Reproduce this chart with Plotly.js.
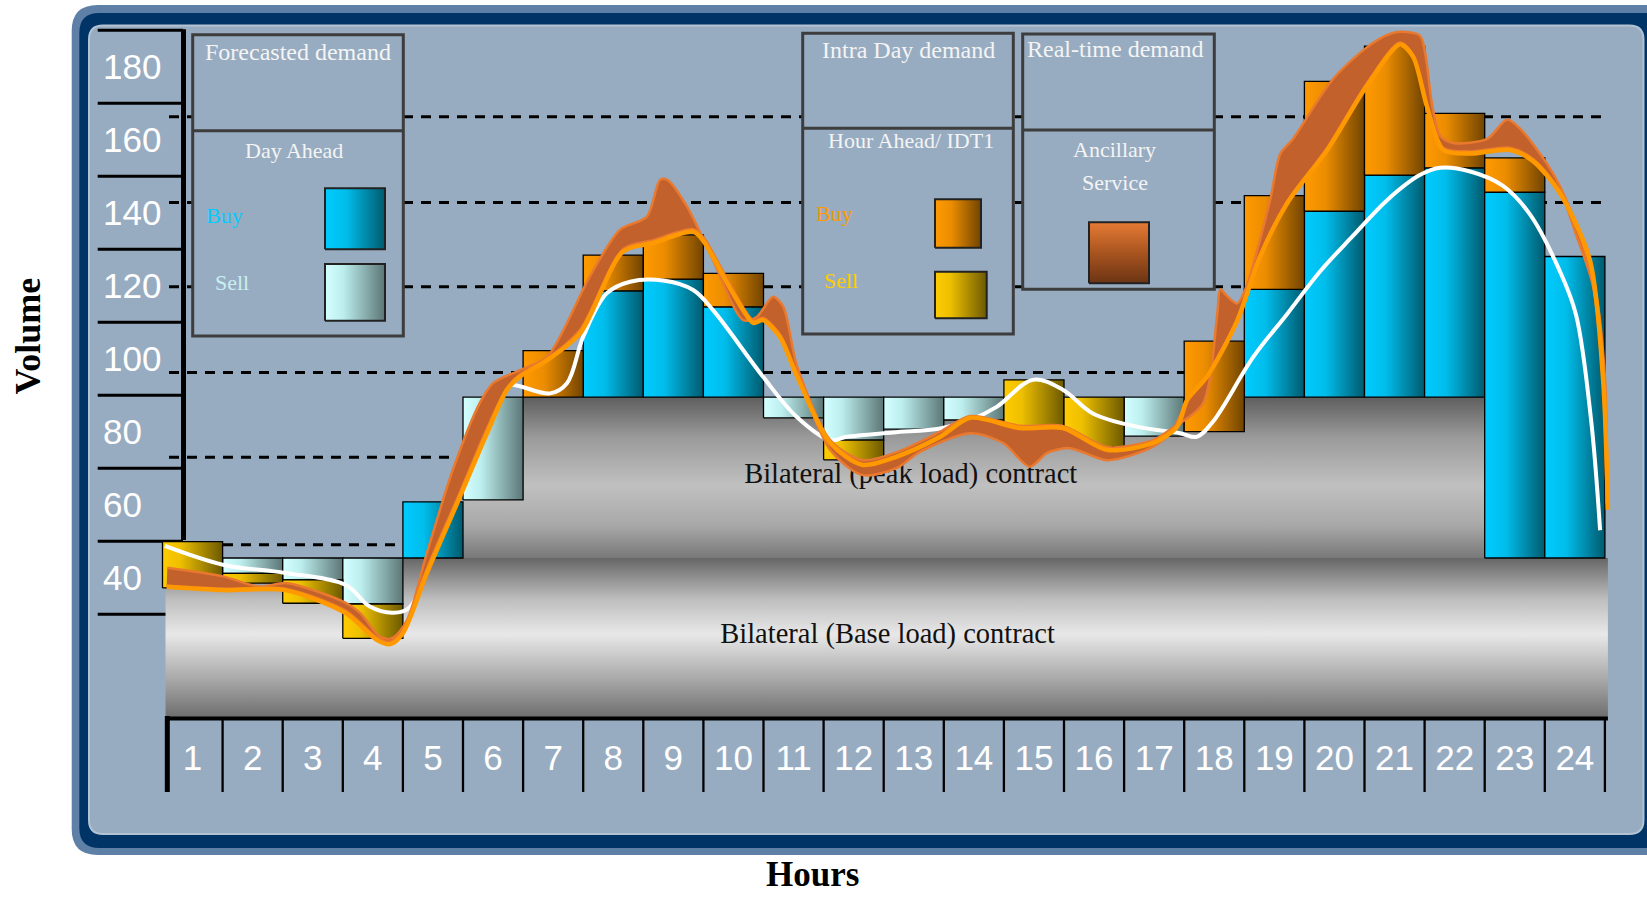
<!DOCTYPE html>
<html><head><meta charset="utf-8">
<script src="https://cdn.plot.ly/plotly-3.0.1.min.js"></script>
<style>html,body{margin:0;padding:0;background:#fff}#chart{width:1647px;height:898px}</style>
</head><body><div id="chart"></div>
<script>
// ================= DATA =================
const hours = [1,2,3,4,5,6,7,8,9,10,11,12,13,14,15,16,17,18,19,20,21,22,23,24];
const hourLabels = hours.map(String);
const yTickValues = [40,60,80,100,120,140,160,180];
const gridLevels = [49.0, 73.0, 96.2, 119.7, 142.8, 166.3];
const sideTickLevels = [190,170,150,130,110,90,70,50,30];

// Bilateral contracts
const baseLoadTop = 45.4;
const baseLoadBottom = 1.8;
const peakLoadTop = [null,null,null,null,null,61.3,89.5,89.5,89.5,89.5,89.5,89.5,89.5,89.5,89.5,89.5,89.5,89.5,89.5,89.5,89.5,89.5,null,null];

const n = null;
// Day Ahead buy / sell segments (low, high)
const daBuyLow   = [n,n,n,n,45.4,n,n,89.5,89.5,89.5,n,n,n,n,n,n,n,n,89.5,89.5,89.5,89.5,45.4,45.4];
const daBuyHigh  = [n,n,n,n,60.8,n,n,118.6,121.8,114.2,n,n,n,n,n,n,n,n,119.0,140.4,150.3,152.3,145.6,128.0];
const daSellLow  = [n,41.2,39.4,32.8,n,61.3,n,n,n,n,83.8,77.7,80.7,83.2,n,n,78.8,n,n,n,n,n,n,n];
const daSellHigh = [n,45.4,45.4,45.4,n,89.5,n,n,n,n,89.5,89.5,89.5,89.5,n,n,89.5,n,n,n,n,n,n,n];
// Hour Ahead / IDT1 buy / sell segments
const idBuyLow   = [n,n,n,n,n,n,89.5,118.6,121.8,114.2,n,n,n,n,n,n,n,80.0,119.0,140.4,150.3,152.3,145.6,n];
const idBuyHigh  = [n,n,n,n,n,n,102.2,128.4,133.9,123.4,n,n,n,n,n,n,n,104.8,144.7,176.0,185.6,167.2,155.0,n];
const idSellLow  = [37.2,38.5,33.0,23.4,n,n,n,n,n,n,n,72.3,n,n,80.3,75.9,n,n,n,n,n,n,n,n];
const idSellHigh = [49.9,41.2,39.4,32.8,n,n,n,n,n,n,n,77.7,n,n,94.2,89.5,n,n,n,n,n,n,n,n];

// Forecast (white) curve
const whiteH = [0.54,1.52,2.54,3.55,3.95,4.34,4.62,5.12,5.62,6.11,6.33,6.95,7.23,7.50,7.89,8.28,8.83,9.33,9.66,10.49,11.05,11.61,11.88,12.66,13.44,13.94,14.38,14.98,15.48,15.98,16.71,17.43,17.71,17.98,18.65,19.21,19.76,20.31,20.88,21.42,21.76,22.26,22.80,23.25,23.75,24.02,24.27,24.42];
const whiteV = [48.7,43.5,41.3,38.0,32.1,30.4,32.0,55.0,77.0,92.0,92.8,90.5,93.3,106.0,117.9,121.1,121.4,118.8,113.3,95.1,84.1,77.7,78.6,79.8,80.9,83.2,86.8,94.2,91.5,85.0,81.4,79.6,78.6,82.8,100.5,112.2,123.9,133.7,143.5,150.3,152.3,151.3,147.4,139.6,124.0,112.0,83.2,53.0];

// Intra-day (orange) curve
const orangeH = [0.57,1.52,2.54,3.55,4.07,4.29,4.50,4.90,5.45,5.90,6.23,6.45,6.90,7.45,8.16,8.66,9.33,9.49,9.99,10.33,10.49,10.77,11.06,11.61,12.15,12.72,13.44,13.94,14.77,15.48,16.22,16.98,17.38,17.55,17.88,18.38,18.76,19.21,19.88,20.54,21.09,21.31,21.54,21.81,22.26,22.92,23.30,23.75,24.25,24.47,24.55];
const orangeV = [37.5,36.6,36.6,30.3,22.9,21.8,24.8,41.3,62.2,79.6,91.4,95.1,99.6,107.0,129.3,131.7,134.8,132.5,118.0,109.8,110.6,106.0,95.1,76.9,70.9,73.2,78.6,83.8,81.0,81.0,75.0,76.9,81.3,88.7,95.1,110.3,127.9,142.5,157.2,174.8,186.1,182.7,169.0,157.2,156.2,157.2,154.2,145.4,127.0,94.2,58.6];

// Real-time (ancillary) band: upper and lower edges
const bandUpH = [0.58,1.52,2.12,2.57,3.55,3.79,4.12,4.33,4.57,4.90,5.33,5.78,6.00,6.45,6.90,7.61,8.11,8.56,8.78,8.90,9.23,9.66,10.16,10.39,10.66,10.83,11.06,11.61,12.15,12.72,13.44,13.94,14.77,15.48,16.22,16.98,17.26,17.81,18.05,18.10,18.21,18.38,18.54,18.93,19.10,19.31,19.98,20.64,21.04,21.42,21.51,21.63,21.76,21.97,22.54,22.87,23.09,23.54,23.75,24.02,24.35,24.50,24.54];
const bandUpV = [42.7,40.3,37.5,38.5,33.1,30.3,23.8,23.5,28.4,46.8,69.5,87.9,93.3,96.9,100.5,122.5,135.3,138.9,149.0,149.0,141.6,127.0,110.6,111.5,117.0,114.2,97.8,77.7,72.2,74.4,80.0,84.3,81.6,81.6,75.8,77.7,80.5,87.7,112.2,119.0,117.2,115.1,120.0,143.5,156.2,160.2,176.7,186.5,189.5,188.5,183.6,169.0,161.1,159.1,160.2,165.5,163.0,153.3,147.3,136.5,118.0,95.0,62.0];
const bandLoH = [0.57,1.52,2.54,3.55,4.07,4.29,4.50,4.90,5.45,5.90,6.23,6.45,6.90,7.45,8.16,8.66,9.33,9.49,9.99,10.33,10.49,10.77,11.06,11.61,12.15,12.72,13.10,13.94,14.49,14.93,15.22,15.60,16.22,16.98,17.31,17.55,17.88,18.38,18.76,19.21,19.88,20.54,21.09,21.31,21.54,21.81,22.26,22.92,23.30,23.75,24.02,24.30,24.47,24.53];
const bandLoV = [37.8,37.0,37.0,31.0,23.6,22.5,25.5,42.5,63.5,81.0,92.0,95.8,100.0,108.0,130.0,132.5,135.5,133.5,119.0,110.5,111.2,106.8,95.8,75.0,68.1,70.1,74.5,79.6,76.9,70.4,74.2,75.5,72.2,75.9,80.5,88.5,95.5,110.8,128.5,143.0,157.8,175.5,186.6,183.2,169.5,157.8,156.8,157.8,154.8,146.0,134.0,120.0,93.0,60.0];

// ================= LAYOUT HELPERS (pixel -> axis / paper) =================
const W = 1647, H = 898, ML = 88, MT = 26, MB = 63;
const PW = W - ML, PH = H - MT - MB;
const X = px => (px - 132.45) / 60.1;
const Y = py => 180 - (py - 66.7) / 3.65;
const PXf = px => (px - ML) / PW;
const PYf = py => (H - MB - py) / PH;

const serif = 'Liberation Serif, Times New Roman, serif';
const sans = 'Liberation Sans, Arial, sans-serif';
const BG = '#98ACC1';

const gradDABuy  = [[0,'#00CCFF'],[0.35,'#00BDEB'],[1,'#005A6E']];
const gradDASell = [[0,'#D4FFFF'],[0.3,'#BDEEEE'],[1,'#5C7676']];
const gradIDBuy  = [[0,'#FF9A00'],[0.35,'#EC8D00'],[1,'#714400']];
const gradIDSell = [[0,'#FFCC00'],[0.3,'#EDBF00'],[1,'#6C5900']];
const gradBase   = [[0,'#6E6E6E'],[0.21,'#A2A2A2'],[0.52,'#E8E8E8'],[0.74,'#BEBEBE'],[1,'#666666']];
const gradPeak   = [[0,'#787878'],[0.2,'#A8A8A8'],[0.45,'#C0C0C0'],[0.75,'#9A9A9A'],[1,'#5E5E5E']];
const gradAnc    = [[0,'#6B3414'],[0.5,'#A8541F'],[1,'#E67B35']];

function poly(xs, ys, gtype, scale, lc, lw) {
  return {type:'scatter', mode:'lines', x:xs, y:ys, fill:'toself',
    fillgradient:{type:gtype, colorscale:scale},
    line:{color:lc, width:lw}, hoverinfo:'skip', showlegend:false};
}
function rectPoly(x0,x1,y0,y1,gtype,scale,lc,lw){
  return poly([x0,x1,x1,x0,x0],[y0,y0,y1,y1,y0],gtype,scale,lc,lw);
}

const traces = [];
// base load band
traces.push(rectPoly(hours[0]-0.45, hours[hours.length-1]+0.55, baseLoadBottom, baseLoadTop, 'vertical', gradBase, 'rgba(0,0,0,0)', 0));
// peak load band (stepped)
(function(){
  const pk = hours.map((h,i)=>({h, t: peakLoadTop[i]})).filter(d=>d.t!==null);
  const xs=[pk[0].h-0.5], ys=[baseLoadTop];
  pk.forEach(d=>{xs.push(d.h-0.5, d.h+0.5); ys.push(d.t, d.t);});
  xs.push(pk[pk.length-1].h+0.5, pk[0].h-0.5); ys.push(baseLoadTop, baseLoadTop);
  traces.push(poly(xs, ys, 'vertical', gradPeak, 'rgba(0,0,0,0)', 0));
})();
// bars
[[daBuyLow,daBuyHigh,gradDABuy],[daSellLow,daSellHigh,gradDASell],[idBuyLow,idBuyHigh,gradIDBuy],[idSellLow,idSellHigh,gradIDSell]].forEach(([lo,hi,sc])=>{
  hours.forEach((h,i)=>{
    if (lo[i]===null || hi[i]===null) return;
    traces.push(rectPoly(h-0.5, h+0.5, lo[i], hi[i], 'horizontal', sc, '#000', 1.3));
  });
});
// contract labels (drawn under the curves)
traces.push({type:'scatter', mode:'text', x:[X(910.7), X(887.6)], y:[Y(475.8), Y(635.5)],
  text:['Bilateral (peak load) contract','Bilateral (Base load) contract'],
  textposition:'middle center', textfont:{family:serif, size:28.5, color:'#111'}, hoverinfo:'skip', showlegend:false});
// forecast curve
traces.push({type:'scatter', mode:'lines', x:whiteH, y:whiteV, line:{color:'#FFFFFF', width:4, shape:'spline', smoothing:1}, hoverinfo:'skip', showlegend:false});
// real-time band
traces.push({type:'scatter', mode:'lines', x:bandLoH, y:bandLoV, line:{color:'#E9792F', width:2.5, shape:'spline', smoothing:0.8}, hoverinfo:'skip', showlegend:false});
traces.push({type:'scatter', mode:'lines', x:bandUpH, y:bandUpV, fill:'tonexty', fillcolor:'#C2612B', line:{color:'#E9792F', width:2.5, shape:'spline', smoothing:0.8}, hoverinfo:'skip', showlegend:false});
// intra-day curve
traces.push({type:'scatter', mode:'lines', x:orangeH, y:orangeV, line:{color:'#FF9900', width:4.5, shape:'spline', smoothing:0.8}, hoverinfo:'skip', showlegend:false});
// legend swatches
traces.push(rectPoly(X(325), X(385), Y(249.3), Y(188.3), 'horizontal', gradDABuy, '#222', 2));
traces.push(rectPoly(X(325), X(385), Y(320.7), Y(264), 'horizontal', gradDASell, '#222', 2));
traces.push(rectPoly(X(935), X(981), Y(247.7), Y(199.3), 'horizontal', gradIDBuy, '#222', 2));
traces.push(rectPoly(X(935), X(986.7), Y(318.3), Y(271.7), 'horizontal', gradIDSell, '#222', 2));
traces.push(rectPoly(X(1089), X(1149), Y(283.3), Y(222.3), 'vertical', gradAnc, '#222', 2));

// ================= SHAPES =================
function rr(x0,y0,x1,y1,r){
  const p=(x,y)=>PXf(x).toFixed(5)+','+PYf(y).toFixed(5);
  return 'M'+p(x0+r,y0)+' L'+p(x1-r,y0)+' Q'+p(x1,y0)+' '+p(x1,y0+r)+' L'+p(x1,y1-r)+' Q'+p(x1,y1)+' '+p(x1-r,y1)+
    ' L'+p(x0+r,y1)+' Q'+p(x0,y1)+' '+p(x0,y1-r)+' L'+p(x0,y0+r)+' Q'+p(x0,y0)+' '+p(x0+r,y0)+' Z';
}
const shapes = [];
shapes.push({type:'path', xref:'paper', yref:'paper', path:rr(71.7,5,1720,855,26), fillcolor:'#5E80A7', line:{width:0}, layer:'below'});
shapes.push({type:'path', xref:'paper', yref:'paper', path:rr(79.3,13,1712,848,20), fillcolor:'#003366', line:{width:0}, layer:'below'});
shapes.push({type:'path', xref:'paper', yref:'paper', path:rr(89,25.5,1643.5,834,14), fillcolor:BG, line:{color:'#B3C3D4', width:2}, layer:'below'});

gridLevels.forEach(v=>shapes.push({type:'line', xref:'x', yref:'y', x0:X(169), x1:X(1607), y0:v, y1:v, line:{color:'#000', width:3, dash:'10px,8px'}, layer:'below'}));
sideTickLevels.forEach(v=>shapes.push({type:'line', xref:'x', yref:'y', x0:X(97.7), x1:(v>40?X(183):X(167)), y0:v, y1:v, line:{color:'#000', width:3}, layer:'below'}));
shapes.push({type:'line', xref:'x', yref:'y', x0:X(183.5), x1:X(183.5), y0:Y(540), y1:Y(29.3), line:{color:'#000', width:5}, layer:'below'});

function box(x0,x1,y0,y1,ydiv){
  shapes.push({type:'rect', xref:'x', yref:'y', x0:X(x0), x1:X(x1), y0:Y(y1), y1:Y(y0), fillcolor:BG, line:{color:'#3D3D3D', width:3}, layer:'below'});
  shapes.push({type:'line', xref:'x', yref:'y', x0:X(x0), x1:X(x1), y0:Y(ydiv), y1:Y(ydiv), line:{color:'#3D3D3D', width:3}, layer:'below'});
}
box(192.7, 403.3, 34.7, 336, 130.7);
box(802.7, 1013.3, 33.3, 334, 128.3);
box(1022.7, 1214.3, 34, 289.3, 130);

// x axis line and hour cells
shapes.push({type:'line', xref:'x', yref:'y', x0:hours[0]-0.45, x1:hours[hours.length-1]+0.55, y0:Y(718.5), y1:Y(718.5), line:{color:'#000', width:4}, layer:'above'});
for (let k=0; k<=hours.length; k++){
  const xb = (k===0) ? hours[0]-0.42 : k + 0.5;
  shapes.push({type:'line', xref:'x', yref:'y', x0:xb, x1:xb, y0:Y(k===0?716:718), y1:Y(792), line:{color:'#000', width:(k===0?5:2.3)}, layer:'above'});
}

// ================= ANNOTATIONS =================
const WHITE = '#F4F4F4';
function ann(text, px, py, size, color, anchor){
  return {text, x:X(px), y:Y(py), xref:'x', yref:'y', showarrow:false, xanchor:anchor||'center', yanchor:'middle',
    font:{family:serif, size, color}};
}
const annotations = [
  ann('Forecasted demand', 297.7, 51.7, 24, WHITE),
  ann('Day Ahead', 294, 150.7, 22, WHITE),
  ann('Buy', 204, 215, 22, '#00CCFF', 'left'),
  ann('Sell', 212.7, 282.7, 22, '#C8EEF2', 'left'),
  ann('Intra Day demand', 908, 50, 24, WHITE),
  ann('Hour Ahead/ IDT1', 910.5, 140.7, 22, WHITE),
  ann('Buy', 814, 213, 22, '#FF9900', 'left'),
  ann('Sell', 821.7, 280, 22, '#FFCC00', 'left'),
  ann('Real-time demand', 1115, 49.4, 24, WHITE),
  ann('Ancillary', 1114.5, 149, 22, WHITE),
  ann('Service', 1114.5, 182.7, 22, WHITE),
  {text:'<b>Volume</b>', xref:'paper', yref:'paper', x:PXf(28.4), y:PYf(336), textangle:-90, showarrow:false, xanchor:'center', yanchor:'middle', font:{family:serif, size:36, color:'#000'}},
  {text:'<b>Hours</b>', xref:'paper', yref:'paper', x:PXf(812), y:PYf(874), showarrow:false, xanchor:'center', yanchor:'middle', font:{family:serif, size:35, color:'#000'}}
];

const layout = {
  width:W, height:H, margin:{l:ML, r:0, t:MT, b:MB, pad:0},
  paper_bgcolor:'#FFFFFF', plot_bgcolor:'rgba(0,0,0,0)',
  showlegend:false, hovermode:false,
  xaxis:{range:[X(ML), X(W)], anchor:'free', position:PYf(718.5), showgrid:false, zeroline:false, showline:false,
    ticks:'', tickmode:'array', tickvals:hours, ticktext:hourLabels, ticklabelstandoff:15,
    tickfont:{family:sans, size:35, color:'#FFFFFF'}, fixedrange:true},
  yaxis:{range:[Y(H-MB), Y(MT)], anchor:'free', position:PXf(100), side:'right', showgrid:false, zeroline:false, showline:false,
    ticks:'', tickmode:'array', tickvals:yTickValues, ticklabelstandoff:2,
    tickfont:{family:sans, size:35, color:'#FFFFFF'}, fixedrange:true},
  shapes, annotations
};

Plotly.newPlot('chart', traces, layout, {staticPlot:true, displayModeBar:false});
</script>
</body></html>
